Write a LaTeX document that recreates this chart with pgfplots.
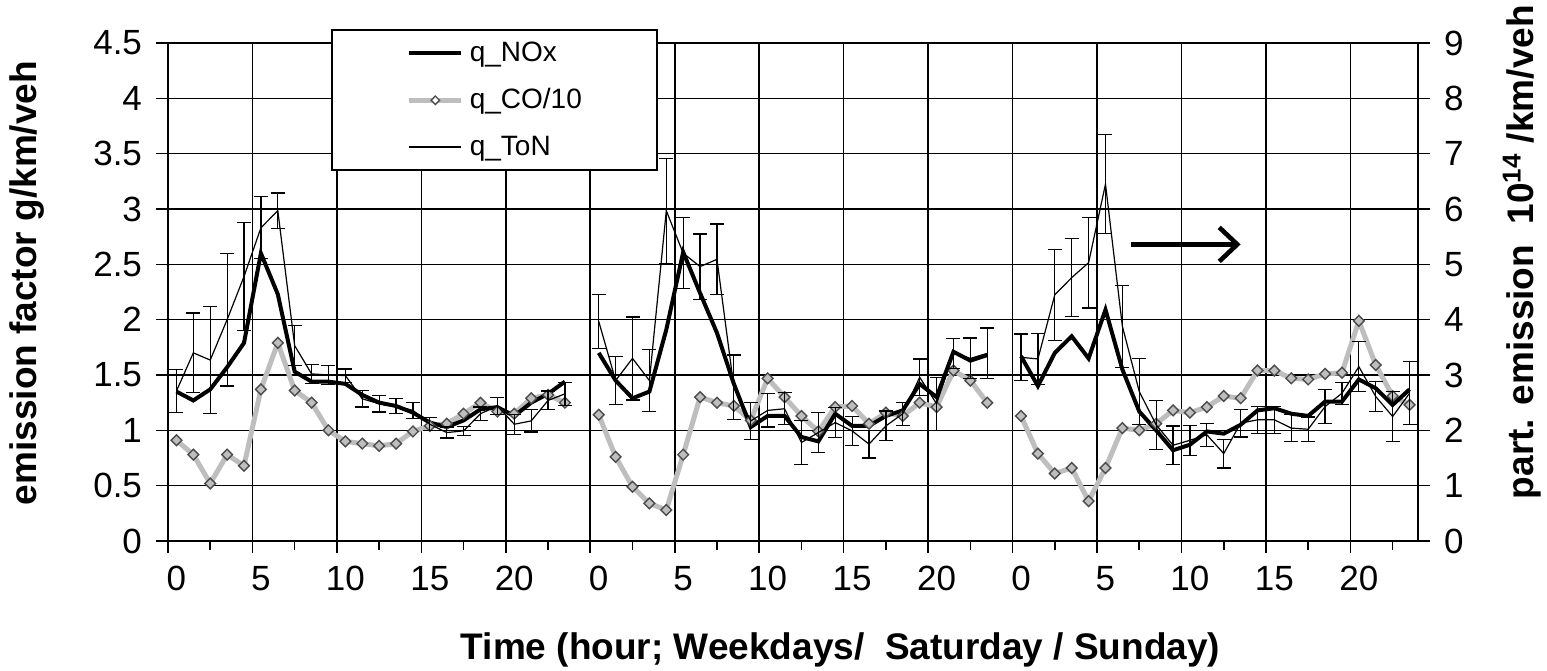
\documentclass[border=0pt]{standalone}
\usepackage{fontspec}
\setmainfont{Liberation Sans}
\usepackage{pgfplots}
\usepackage{pgfplotstable}
\pgfplotsset{compat=1.18}
\usetikzlibrary{arrows.meta}
\definecolor{cogray}{RGB}{190,190,190}

% h = hour of day, nox/co on left axis, ton (+- err) on right axis
\pgfplotstableread{
h nox co ton err
0 1.35 0.91 2.71 0.39
1 1.27 0.78 3.40 0.72
2 1.37 0.52 3.27 0.97
3 1.57 0.78 4.00 1.20
4 1.79 0.68 4.78 0.97
5 2.60 1.37 5.66 0.56
6 2.23 1.79 5.97 0.32
7 1.53 1.36 3.53 0.36
8 1.44 1.25 3.02 0.17
9 1.44 1.00 3.00 0.17
10 1.42 0.90 2.99 0.12
11 1.32 0.88 2.57 0.15
12 1.25 0.86 2.48 0.15
13 1.22 0.88 2.44 0.13
14 1.16 0.99 2.36 0.14
15 1.07 1.04 2.11 0.12
16 1.03 1.06 1.96 0.10
17 1.09 1.15 1.99 0.08
18 1.19 1.25 2.30 0.12
19 1.21 1.17 2.44 0.15
20 1.13 1.15 2.11 0.18
21 1.25 1.29 2.17 0.20
22 1.33 1.32 2.54 0.17
23 1.44 1.25 2.66 0.21
}\weekdays

\pgfplotstableread{
h nox co ton err
0 1.70 1.14 3.97 0.49
1 1.45 0.76 2.90 0.43
2 1.29 0.49 3.30 0.75
3 1.35 0.34 2.90 0.56
4 1.91 0.28 5.97 0.95
5 2.61 0.78 5.20 0.64
6 2.24 1.30 4.96 0.59
7 1.88 1.25 5.09 0.64
8 1.42 1.22 2.78 0.58
9 1.03 1.09 2.17 0.33
10 1.13 1.47 2.36 0.30
11 1.13 1.30 2.39 0.29
12 0.94 1.13 1.78 0.40
13 0.90 0.99 1.96 0.36
14 1.15 1.21 2.14 0.27
15 1.04 1.22 1.99 0.26
16 1.04 1.06 1.75 0.25
17 1.13 1.16 2.08 0.27
18 1.18 1.13 2.30 0.21
19 1.42 1.25 2.96 0.33
20 1.30 1.21 2.48 0.48
21 1.71 1.54 3.39 0.27
22 1.63 1.45 3.30 0.37
23 1.68 1.25 3.39 0.46
}\saturday

\pgfplotstableread{
h nox co ton err
0 1.67 1.13 3.32 0.42
1 1.40 0.79 3.29 0.46
2 1.70 0.61 4.45 0.82
3 1.85 0.66 4.76 0.70
4 1.65 0.36 5.03 0.82
5 2.09 0.66 6.45 0.89
6 1.55 1.02 3.88 0.74
7 1.17 1.00 2.70 0.60
8 1.00 1.06 2.10 0.44
9 0.82 1.18 1.73 0.35
10 0.87 1.16 1.82 0.27
11 0.99 1.21 1.92 0.21
12 0.97 1.31 1.58 0.26
13 1.05 1.29 2.13 0.25
14 1.18 1.54 2.19 0.24
15 1.20 1.54 2.19 0.24
16 1.15 1.47 2.04 0.24
17 1.13 1.46 2.02 0.22
18 1.26 1.51 2.43 0.31
19 1.26 1.52 2.67 0.20
20 1.46 1.99 3.15 0.45
21 1.38 1.59 2.61 0.27
22 1.23 1.31 2.25 0.45
23 1.37 1.23 2.67 0.57
}\sunday

\pgfplotsset{
  common/.style={
    scale only axis, width=625bp, height=249bp,
    xmin=-0.5, xmax=73.5,
    tick align=outside, major tick length=6bp, minor tick length=4.5bp,
    axis line style={black, line width=0.8bp},
    tick style={black, line width=0.8bp},
    /pgf/number format/assume math mode=true,
    tick label style={font=\fontsize{17.5bp}{20bp}\selectfont},
  },
  noxstyle/.style={black, line width=2bp, no markers},
  costyle/.style={cogray, line width=2.5bp, mark=square*, mark size=1.9bp,
    mark options={rotate=45, draw=black!70, fill=cogray, line width=0.7bp}},
  tonstyle/.style={black, line width=0.6bp, no markers},
  tonerr/.style={
    error bars/y dir=both, error bars/y explicit,
    error bars/error bar style={black, line width=0.6bp},
    error bars/error mark options={rotate=90, mark size=3.5bp, black, line width=0.6bp}},
}

\begin{document}
\begin{tikzpicture}
\useasboundingbox (-84bp,-65bp) rectangle (689.5bp,270.5bp);

\begin{axis}[
  common,
  ymin=0, ymax=4.5,
  xtick={-0.5,4.5,...,69.5},
  xticklabels={0,5,10,15,20,0,5,10,15,20,0,5,10,15,20},
  minor xtick={2,7,...,72},
  ytick={0,0.5,...,4.5},
  xmajorgrids, ymajorgrids,
  grid style={black, line width=0.8bp},
  xtick pos=bottom, ytick pos=left,
  xticklabel style={xshift=4.2bp, yshift=-3bp},
  yticklabel style={xshift=-3.5bp},
  xlabel={Time (hour; Weekdays/\ \ Saturday / Sunday)},
  ylabel={emission factor g/km/veh},
  every axis x label/.style={at={(rel axis cs:0.538,-0.219)}, anchor=center,
    font=\bfseries\fontsize{18.5bp}{22bp}\selectfont},
  every axis y label/.style={at={(rel axis cs:-0.113,0.518)}, rotate=90, anchor=center,
    font=\bfseries\fontsize{18.5bp}{22bp}\selectfont},
]
\addplot[costyle] table[x=h, y=co] {\weekdays};
\addplot[costyle] table[x expr=\thisrow{h}+25, y=co] {\saturday};
\addplot[costyle] table[x expr=\thisrow{h}+50, y=co] {\sunday};
\addplot[noxstyle] table[x=h, y=nox] {\weekdays};
\addplot[noxstyle] table[x expr=\thisrow{h}+25, y=nox] {\saturday};
\addplot[noxstyle] table[x expr=\thisrow{h}+50, y=nox] {\sunday};
\draw[black, line width=2.3bp, -{Straight Barb[length=9bp, width=17bp]}]
  (axis cs:56.5,2.68) -- (axis cs:63,2.68);
\end{axis}

\begin{axis}[
  common,
  ymin=0, ymax=9,
  ytick={0,1,...,9},
  axis y line*=right, axis x line=none,
  yticklabel style={xshift=3.5bp},
  ylabel={part. emission\ \ 10\textsuperscript{14} /km/veh},
  every axis y label/.style={at={(rel axis cs:1.083,0.58)}, rotate=90, anchor=center,
    font=\bfseries\fontsize{18.5bp}{22bp}\selectfont},
  legend image code/.code={\draw[mark repeat=2, mark phase=2, #1]
    plot coordinates {(0bp,0bp) (13bp,0bp) (26bp,0bp)};},
  legend cell align=left,
  legend style={at={(0.1304,1.0275)}, anchor=north west, draw=black,
    line width=0.8bp, fill=white, inner xsep=37.5bp, inner ysep=6bp,
    row sep=12bp, column sep=3bp, font=\fontsize{14bp}{16bp}\selectfont,
    nodes={inner sep=0pt}},
]
\addlegendimage{noxstyle}
\addlegendentry{q\_NOx}
\addlegendimage{costyle, mark size=1.5bp, mark options={rotate=45, draw=black!70, fill=white, line width=0.7bp}}
\addlegendentry{q\_CO/10}
\addplot[tonstyle, tonerr] table[x=h, y=ton, y error=err] {\weekdays};
\addlegendentry{q\_ToN}
\addplot[forget plot, tonstyle, tonerr] table[x expr=\thisrow{h}+25, y=ton, y error=err] {\saturday};
\addplot[forget plot, tonstyle, tonerr] table[x expr=\thisrow{h}+50, y=ton, y error=err] {\sunday};
\end{axis}
\end{tikzpicture}
\end{document}
